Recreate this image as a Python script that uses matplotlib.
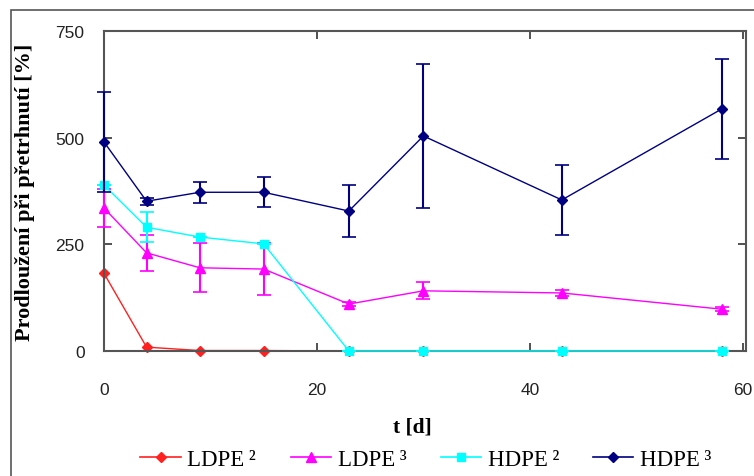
import matplotlib
matplotlib.use('Agg')
import matplotlib.pyplot as plt
from matplotlib.patches import Rectangle
from matplotlib.lines import Line2D

# days
t = [0, 4, 9, 15, 23, 30, 43, 58]

# series values [%] and error bars
ldpe2 = [182, 9, 1, 1, 0, 0, 0, 0]
ldpe3 = [335, 230, 195, 192, 110, 141, 136, 98]
ldpe3_err = [45, 43, 57, 60, 5, 20, 6, 5]
hdpe2 = [389, 290, 267, 251, 0, 0, 0, 0]
hdpe2_err = [0, 35, 0, 0, 0, 0, 0, 0]
hdpe3 = [490, 351, 372, 372, 328, 504, 354, 567]
hdpe3_err = [117, 8, 25, 35, 62, 168, 82, 117]

labels = ['LDPE\u2009²', 'LDPE\u2009³', 'HDPE\u2009²', 'HDPE\u2009³']
colors = ['#ff2020', '#ff00ff', '#00ffff', '#000080']
markers = ['D', '^', 's', 'D']
msizes = [5, 7, 6, 5]
xticks = [0, 20, 40, 60]
yticks = [0, 250, 500, 750]

fig = plt.figure(figsize=(7.54, 4.77), dpi=100)
ax = fig.add_axes([0.1379, 0.2621, 0.8515, 0.6708])

# outer frame like the original sheet
fig.add_artist(Rectangle((11 / 754, -0.2), 1.0, (477 - 11) / 477 + 0.2,
                         transform=fig.transFigure, fill=False,
                         edgecolor='#555555', lw=1.2))

ax.plot(t, ldpe2, color=colors[0], lw=1, marker=markers[0], ms=msizes[0],
        zorder=2, clip_on=False)
series = [(ldpe3, ldpe3_err), (hdpe2, hdpe2_err), (hdpe3, hdpe3_err)]
for i, (vals, errs) in enumerate(series, start=1):
    ax.errorbar(t, vals, yerr=errs, color=colors[i], lw=1, marker=markers[i],
                ms=msizes[i], elinewidth=1.5, capsize=5, capthick=1.2,
                zorder=2 + i, clip_on=False)

ax.set_xlim(0, 60.3)
ax.set_ylim(0, 750)
ax.set_xticks(xticks)
ax.set_yticks(yticks)
ax.tick_params(direction='in', length=6, top=True, right=True, width=1.2,
               labelsize=12.5, colors='#333333', labelcolor='#222222')
ax.tick_params(axis='x', pad=22)
ax.tick_params(axis='y', pad=14)
for s in ax.spines.values():
    s.set_color('#555555')
    s.set_linewidth(1.5)
for lab in ax.get_xticklabels() + ax.get_yticklabels():
    lab.set_family('Liberation Sans')

ax.set_xlabel('t [d]', fontsize=15.5, fontweight='bold', family='Liberation Serif')
ax.xaxis.set_label_coords(0.481, -0.205)
ax.set_ylabel('Prodloužení při přetrhnutí [%]', fontsize=16, fontweight='bold',
              family='Liberation Serif')
ax.yaxis.set_label_coords(-0.107, 0.5)

handles = [Line2D([], [], color=c, lw=1.2, marker=m, ms=ms)
           for c, m, ms in zip(colors, markers, msizes)]
fig.legend(handles, labels, loc='center', bbox_to_anchor=(0.565, 0.035), ncol=4,
           frameon=False, prop={'family': 'Liberation Serif', 'size': 16.5},
           handlelength=1.75, columnspacing=1.5, handletextpad=0.3)

plt.savefig('out.png', dpi=100)
